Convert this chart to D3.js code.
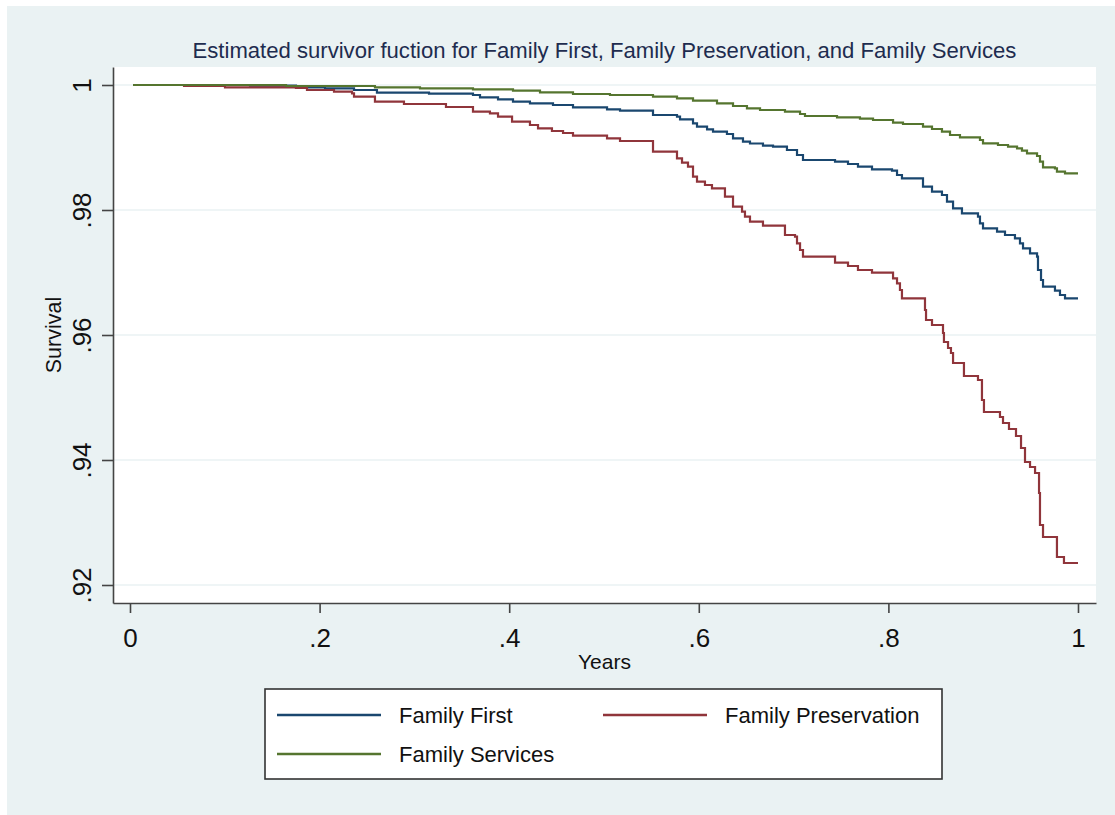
<!DOCTYPE html>
<html>
<head>
<meta charset="utf-8">
<script src="https://cdn.jsdelivr.net/npm/d3@7"></script>
<style>
  html, body { margin: 0; padding: 0; background: #ffffff; }
  svg { display: block; }
  text { font-family: "Liberation Sans", Arial, sans-serif; }
</style>
</head>
<body>
<svg id="chart" width="1115" height="815"></svg>
<script>
// ---------------- DATA ----------------
const titleText = "Estimated survivor fuction for Family First, Family Preservation, and Family Services";
const xLabel = "Years";
const yLabel = "Survival";
const xTicks = [0, 0.2, 0.4, 0.6, 0.8, 1];
const yTicks = [0.92, 0.94, 0.96, 0.98, 1];
const seriesNames = ["Family First", "Family Preservation", "Family Services"];

// Family First (step points: time, survival)
const ffTime = [0.0032,0.1266,0.1751,0.2057,0.2363,0.2605,0.3154,0.3618,0.3692,0.3882,0.4040,0.4219,0.4462,0.4673,0.5032,0.5169,0.5517,0.5770,0.5802,0.5939,0.5981,0.6087,0.6150,0.6297,0.6361,0.6466,0.6540,0.6677,0.6783,0.6930,0.7036,0.7099,0.7437,0.7574,0.7679,0.7827,0.8038,0.8091,0.8143,0.8365,0.8460,0.8565,0.8618,0.8682,0.8776,0.8945,0.8966,0.8998,0.9146,0.9230,0.9335,0.9388,0.9420,0.9494,0.9568,0.9578,0.9610,0.9631,0.9757,0.9810,0.9863,1.0];
const ffSurv = [1,0.9999,0.99963,0.99947,0.9992,0.99877,0.99861,0.9984,0.99803,0.99771,0.99733,0.99707,0.9968,0.99643,0.99611,0.99589,0.9952,0.99493,0.99451,0.99387,0.99333,0.99291,0.99253,0.99216,0.99147,0.99093,0.99064,0.99029,0.99013,0.9896,0.9888,0.988,0.98773,0.98736,0.98693,0.98651,0.98629,0.9856,0.98507,0.98373,0.98293,0.9824,0.98133,0.98027,0.97947,0.97893,0.97787,0.97707,0.97653,0.976,0.97547,0.97467,0.97387,0.97307,0.97253,0.9704,0.9688,0.96773,0.96709,0.9664,0.96587,0.96587];

// Family Preservation
const fpTime = [0.0032,0.0570,0.1002,0.1751,0.1867,0.2152,0.2342,0.2363,0.2584,0.2890,0.3333,0.3618,0.3797,0.3882,0.4030,0.4219,0.4304,0.4451,0.4568,0.4673,0.5032,0.5169,0.5517,0.5770,0.5823,0.5886,0.5939,0.5981,0.6065,0.6139,0.6276,0.6361,0.6456,0.6487,0.6540,0.6677,0.6909,0.7015,0.7036,0.7068,0.7099,0.7437,0.7574,0.7679,0.7827,0.8049,0.8091,0.8122,0.8143,0.8386,0.8397,0.8460,0.8576,0.8586,0.8629,0.8660,0.8682,0.8797,0.8945,0.8987,0.9008,0.9177,0.9209,0.9272,0.9346,0.9399,0.9441,0.9494,0.9547,0.9589,0.9599,0.9631,0.9778,0.9852,1.0];
const fpSurv = [1,0.99984,0.99963,0.99952,0.9992,0.99893,0.99867,0.99813,0.99733,0.99696,0.99648,0.99573,0.99547,0.99493,0.99413,0.9936,0.99307,0.99264,0.99232,0.99189,0.99147,0.99104,0.98933,0.98827,0.98757,0.98693,0.98533,0.98453,0.984,0.98347,0.98213,0.98053,0.97973,0.97893,0.97813,0.97749,0.976,0.97573,0.97467,0.9736,0.97253,0.97157,0.97104,0.9704,0.96997,0.96907,0.96827,0.9672,0.96587,0.964,0.9624,0.9616,0.96032,0.95888,0.95792,0.95712,0.95552,0.95344,0.9528,0.9496,0.94768,0.94688,0.94592,0.94496,0.94384,0.94192,0.93968,0.93888,0.93792,0.93472,0.9296,0.92768,0.92448,0.92352,0.92352];

// Family Services
const fsTime = [0.0032,0.1646,0.2584,0.3059,0.3618,0.4040,0.4325,0.4673,0.5063,0.5517,0.5770,0.5939,0.6192,0.6361,0.6508,0.6646,0.6909,0.7068,0.7120,0.7458,0.7700,0.7838,0.8049,0.8154,0.8365,0.8460,0.8565,0.8650,0.8755,0.8966,0.8998,0.9156,0.9262,0.9357,0.9409,0.9462,0.9568,0.9599,0.9631,0.9757,0.9778,0.9863,1.0];
const fsSurv = [1,0.99984,0.99963,0.99947,0.99931,0.99909,0.99883,0.99856,0.9984,0.99813,0.99787,0.99749,0.99707,0.99664,0.99627,0.996,0.99573,0.99536,0.99504,0.99483,0.99461,0.9944,0.99397,0.99376,0.99333,0.99296,0.99253,0.992,0.99163,0.9912,0.99067,0.9904,0.99013,0.98987,0.98949,0.98907,0.98864,0.98773,0.98683,0.98667,0.98613,0.98587,0.98587];

const seriesTimes = [ffTime, fpTime, fsTime];
const seriesSurv = [ffSurv, fpSurv, fsSurv];
const seriesColors = ["#1a476f", "#90353b", "#55752f"];

// ---------------- LAYOUT ----------------
const svg = d3.select("#chart");
const plot = { left: 113, right: 1096, top: 67, bottom: 603 };

svg.append("rect").attr("x", 7).attr("y", 6).attr("width", 1108).attr("height", 809).attr("fill", "#eaf2f3");
svg.append("rect").attr("x", plot.left).attr("y", plot.top)
  .attr("width", plot.right - plot.left).attr("height", plot.bottom - plot.top).attr("fill", "#ffffff");

const x = d3.scaleLinear().domain([-0.01793, 1.01899]).range([plot.left, plot.right]);
const y = d3.scaleLinear().domain([0.91712, 1.00288]).range([plot.bottom, plot.top]);

const fmt = d => d === 0 ? "0" : (d === 1 ? "1" : String(+d.toFixed(2)).replace(/^0/, ""));

// gridlines
svg.append("g").selectAll("line").data(yTicks).join("line")
  .attr("x1", plot.left).attr("x2", plot.right)
  .attr("y1", d => y(d)).attr("y2", d => y(d))
  .attr("stroke", "#eaf2f3").attr("stroke-width", 1.6);

// curves
const line = d3.line().curve(d3.curveStepAfter).x(d => x(d[0])).y(d => y(d[1]));
seriesTimes.forEach((ts, i) => {
  const pts = ts.map((t, j) => [t, seriesSurv[i][j]]);
  svg.append("path").datum(pts)
    .attr("d", line).attr("fill", "none")
    .attr("stroke", seriesColors[i]).attr("stroke-width", 2.2)
    .attr("stroke-linejoin", "miter");
});

// y axis
const yAxis = svg.append("g").attr("transform", `translate(${plot.left},0)`)
  .call(d3.axisLeft(y).tickValues(yTicks).tickFormat(fmt).tickSize(11).tickSizeOuter(0).tickPadding(11));
yAxis.select(".domain").attr("stroke", "#444").attr("stroke-width", 1.6);
yAxis.selectAll(".tick line").attr("stroke", "#444").attr("stroke-width", 1.6);
yAxis.selectAll(".tick text")
  .attr("x", null).attr("dy", null)
  .attr("transform", "translate(-22,0) rotate(-90)")
  .attr("text-anchor", "middle")
  .attr("y", 0)
  .style("font-size", "26px").attr("fill", "#111");

// x axis
const xAxis = svg.append("g").attr("transform", `translate(0,${plot.bottom})`)
  .call(d3.axisBottom(x).tickValues(xTicks).tickFormat(fmt).tickSize(10).tickSizeOuter(0));
xAxis.select(".domain").attr("stroke", "#444").attr("stroke-width", 1.6);
xAxis.selectAll(".tick line").attr("stroke", "#444").attr("stroke-width", 1.6);
xAxis.selectAll(".tick text").attr("dy", null).attr("y", 44)
  .style("font-size", "26px").attr("fill", "#111");

// axis titles
svg.append("text").attr("x", (plot.left + plot.right) / 2).attr("y", 669)
  .attr("text-anchor", "middle").style("font-size", "21px").attr("fill", "#111").text(xLabel);
svg.append("text").attr("transform", `translate(61,${(plot.top + plot.bottom) / 2}) rotate(-90)`)
  .attr("text-anchor", "middle").style("font-size", "21.5px").attr("fill", "#111").text(yLabel);

// title
const title = svg.append("text").attr("x", (plot.left + plot.right) / 2).attr("y", 58)
  .attr("text-anchor", "middle").style("font-size", "20px").attr("fill", "#1e2c4f").text(titleText);
const tl = title.node().getComputedTextLength();
title.style("font-size", (20 * 824 / tl).toFixed(2) + "px");

// legend
const lg = svg.append("g");
lg.append("rect").attr("x", 265).attr("y", 689).attr("width", 677).attr("height", 90)
  .attr("fill", "#ffffff").attr("stroke", "#333").attr("stroke-width", 1.6);
const legendPos = [
  { lx: 277, ly: 715, tx: 399, ty: 723 },
  { lx: 603, ly: 715, tx: 725, ty: 723 },
  { lx: 277, ly: 754, tx: 399, ty: 762 }
];
seriesNames.forEach((name, i) => {
  const p = legendPos[i];
  lg.append("line").attr("x1", p.lx).attr("x2", p.lx + 104).attr("y1", p.ly).attr("y2", p.ly)
    .attr("stroke", seriesColors[i]).attr("stroke-width", 2.4);
  lg.append("text").attr("x", p.tx).attr("y", p.ty).style("font-size", "22px").attr("fill", "#111").text(name);
});
</script>
</body>
</html>
